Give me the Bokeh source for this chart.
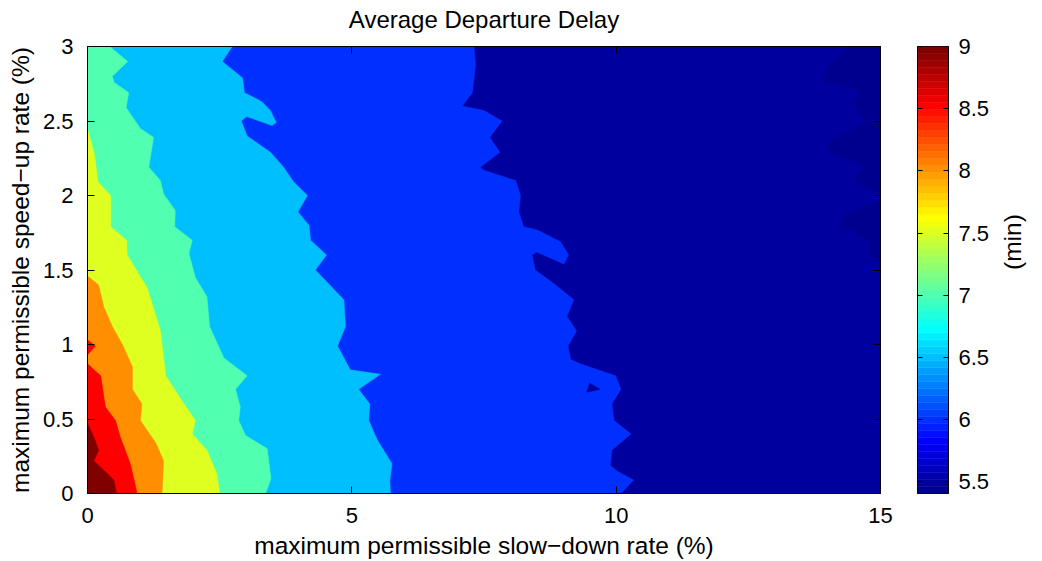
import math
from bokeh.plotting import figure
from bokeh.models import Range1d, FixedTicker, LinearAxis
from bokeh.layouts import row
from bokeh.embed import file_html
from bokeh.resources import INLINE

# ---------------- data ----------------
X_MIN, X_MAX = 0.0, 15.0
Y_MIN, Y_MAX = 0.0, 3.0
C_MIN, C_MAX = 5.407, 9.0          # colour limits (min)

title_text = "Average Departure Delay"
x_ticks = [0, 5, 10, 15]
x_tick_labels = ["0", "5", "10", "15"]
y_ticks = [0, 0.5, 1, 1.5, 2, 2.5, 3]
y_tick_labels = ["0", "0.5", "1", "1.5", "2", "2.5", "3"]
cb_ticks = [5.5, 6, 6.5, 7, 7.5, 8, 8.5, 9]
cb_tick_labels = ["5.5", "6", "6.5", "7", "7.5", "8", "8.5", "9"]

# contour lines (slow-down %, speed-up %), traced top -> bottom; higher delay lies to the left
c60_x = [7.31, 7.34, 7.28, 7.09, 7.50, 7.84, 7.61, 7.80, 7.43, 7.50, 8.10, 8.19, 8.16, 8.25, 8.50,
         8.95, 9.10, 9.01, 8.50, 8.41, 8.47, 8.82, 9.20, 9.07, 9.25, 9.09, 9.14, 9.32, 9.99, 10.09,
         9.92, 9.96, 10.28, 9.92, 9.89, 10.02, 10.33, 10.09]
c60_y = [3.00, 2.88, 2.69, 2.60, 2.57, 2.50, 2.39, 2.29, 2.19, 2.17, 2.10, 2.00, 1.89, 1.79, 1.77,
         1.69, 1.60, 1.54, 1.62, 1.60, 1.50, 1.41, 1.30, 1.19, 1.09, 0.99, 0.90, 0.87, 0.79, 0.70,
         0.60, 0.49, 0.40, 0.29, 0.19, 0.15, 0.09, 0.00]
c65_x = [2.74, 2.55, 2.93, 2.97, 3.30, 3.46, 3.57, 3.49, 3.01, 2.91, 3.02, 3.46, 3.71, 3.90, 4.16,
         3.98, 4.19, 4.22, 4.52, 4.31, 4.85, 4.88, 4.73, 4.97, 5.54, 5.13, 5.34, 5.32, 5.48, 5.76,
         5.72, 5.73]
c65_y = [3.00, 2.90, 2.79, 2.69, 2.63, 2.57, 2.49, 2.47, 2.53, 2.50, 2.40, 2.29, 2.19, 2.09, 2.00,
         1.89, 1.80, 1.70, 1.60, 1.50, 1.30, 1.12, 0.99, 0.83, 0.80, 0.70, 0.60, 0.49, 0.36, 0.20,
         0.09, 0.00]
c70_x = [0.42, 0.76, 0.47, 0.50, 0.78, 0.73, 1.00, 1.25, 1.16, 1.38, 1.44, 1.66, 1.65, 1.98, 1.92,
         2.04, 2.26, 2.31, 2.58, 3.02, 2.80, 2.89, 2.86, 2.99, 3.40, 3.47, 3.37]
c70_y = [3.00, 2.90, 2.80, 2.76, 2.69, 2.59, 2.45, 2.39, 2.19, 2.10, 2.01, 1.90, 1.79, 1.70, 1.61,
         1.45, 1.32, 1.12, 0.91, 0.79, 0.70, 0.58, 0.49, 0.39, 0.30, 0.10, 0.00]
c75_x = [0.00, 0.13, 0.20, 0.44, 0.44, 0.74, 0.75, 1.13, 1.38, 1.48, 1.79, 2.04, 1.98, 2.26, 2.45, 2.50]
c75_y = [2.45, 2.28, 2.09, 2.00, 1.79, 1.70, 1.60, 1.38, 1.09, 0.79, 0.62, 0.49, 0.40, 0.29, 0.13, 0.00]
c80_x = [0.00, 0.21, 0.31, 0.47, 0.66, 0.85, 0.85, 1.03, 1.00, 1.29, 1.44, 1.41]
c80_y = [1.46, 1.40, 1.25, 1.12, 1.00, 0.85, 0.70, 0.60, 0.49, 0.34, 0.22, 0.00]
c85_x = [0.00, 0.15, 0.00, 0.00, 0.25, 0.34, 0.53, 0.62, 0.81, 0.94]
c85_y = [1.03, 0.99, 0.93, 0.87, 0.79, 0.58, 0.49, 0.38, 0.20, 0.00]
c90_x = [0.00, 0.12, 0.21, 0.12, 0.50, 0.55]
c90_y = [0.47, 0.38, 0.29, 0.22, 0.09, 0.00]

# regions below 5.5 min (right edge) and a small island below 6 min
low55_a_x = [14.40, 13.96, 13.93, 14.62, 14.49, 14.72, 14.12, 13.99, 14.75, 14.49, 15.00, 15.00]
low55_a_y = [3.00, 2.83, 2.77, 2.70, 2.62, 2.49, 2.39, 2.30, 2.19, 2.10, 2.01, 3.00]
low55_b_x = [15.00, 14.35, 14.24, 14.78, 14.80, 15.00]
low55_b_y = [1.97, 1.88, 1.80, 1.70, 1.60, 1.54]
isl60_x = [9.50, 9.70, 9.44]
isl60_y = [0.74, 0.70, 0.68]

left_levels = [6.0, 6.5, 7.0, 7.5, 8.0, 8.5, 9.0]
left_lines = [(c60_x, c60_y), (c65_x, c65_y), (c70_x, c70_y), (c75_x, c75_y),
              (c80_x, c80_y), (c85_x, c85_y), (c90_x, c90_y)]


# ---------------- colours (MATLAB jet, 64 entries) ----------------
def jet64(k):  # k = 1..64
    if k <= 8:
        r, g, b = 0, 0, (k + 8) / 16
    elif k <= 24:
        r, g, b = 0, (k - 8) / 16, 1
    elif k <= 40:
        r, g, b = (k - 24) / 16, 1, 1 - (k - 24) / 16
    elif k <= 56:
        r, g, b = 1, 1 - (k - 40) / 16, 0
    else:
        r, g, b = 1 - (k - 56) / 16, 0, 0
    return "#%02x%02x%02x" % (round(r * 255), round(g * 255), round(b * 255))


def level_color(v):
    k = int(math.floor((v - C_MIN) / (C_MAX - C_MIN) * 64)) + 1
    return jet64(max(1, min(64, k)))


FONT = "Liberation Sans"

p = figure(width=900, height=561, x_range=Range1d(X_MIN, X_MAX), y_range=Range1d(Y_MIN, Y_MAX),
           output_backend="svg", toolbar_location=None,
           min_border_left=87, min_border_right=20, min_border_top=46, min_border_bottom=68)
p.grid.visible = False
p.background_fill_color = level_color(5.5)
p.border_fill_color = "white"
p.outline_line_color = "black"
p.outline_line_alpha = 1.0

# regions below 5.5
p.patches(xs=[low55_a_x, low55_b_x], ys=[low55_a_y, low55_b_y],
          fill_color=level_color(C_MIN), line_color=level_color(C_MIN), line_width=0.5)

for lev, (bx, by) in zip(left_levels, left_lines):
    xs = [X_MIN] + list(bx) + [X_MIN]
    ys = [Y_MAX] + list(by) + [Y_MIN]
    col = level_color(lev)
    p.patch(xs, ys, fill_color=col, line_color=col, line_width=0.5)
    if lev == 6.0:
        p.patch(isl60_x, isl60_y, fill_color=level_color(5.5), line_color=level_color(5.5), line_width=0.5)


def style_axis(ax, ticks, labels, show_labels=True):
    ax.ticker = FixedTicker(ticks=ticks)
    ax.major_label_overrides = {t: (l if show_labels else "") for t, l in zip(ticks, labels)}
    ax.major_tick_in = 7
    ax.major_tick_out = 0
    ax.minor_tick_in = 0
    ax.minor_tick_out = 0
    ax.major_tick_line_color = "black"
    ax.axis_line_color = "black"
    ax.major_label_text_font = FONT
    ax.major_label_text_font_size = "22px" if show_labels else "0px"
    ax.major_label_text_color = "black"
    ax.axis_label_text_font = FONT
    ax.axis_label_text_font_size = "24.5px"
    ax.axis_label_text_font_style = "normal"
    ax.axis_label_text_color = "black"


style_axis(p.xaxis[0], x_ticks, x_tick_labels)
p.xaxis[0].axis_label = "maximum permissible slow\u2212down rate (%)"
p.xaxis[0].major_label_standoff = 14
p.xaxis[0].axis_label_standoff = 6
style_axis(p.yaxis[0], y_ticks, y_tick_labels)
p.yaxis[0].axis_label = "maximum permissible speed\u2212up rate (%)"
p.yaxis[0].major_label_standoff = 14
p.yaxis[0].axis_label_standoff = 6

# top axis: inward ticks, carries the chart title
top_ax = LinearAxis()
style_axis(top_ax, x_ticks, x_tick_labels, show_labels=False)
top_ax.major_label_standoff = 0
top_ax.axis_label = title_text
top_ax.axis_label_text_font_size = "24px"
top_ax.axis_label_standoff = 14
p.add_layout(top_ax, "above")
right_ax = LinearAxis()
style_axis(right_ax, y_ticks, y_tick_labels, show_labels=False)
right_ax.major_label_standoff = 0
p.add_layout(right_ax, "right")

# ---------------- colour bar ----------------
cb = figure(width=142, height=561, x_range=Range1d(0, 1), y_range=Range1d(C_MIN, C_MAX),
            output_backend="svg", toolbar_location=None, x_axis_location=None, y_axis_location="right",
            min_border_left=17, min_border_right=76, min_border_top=46, min_border_bottom=68)
cb.grid.visible = False
cb.outline_line_color = "black"
cb.outline_line_alpha = 1.0
step = (C_MAX - C_MIN) / 64
bottoms = [C_MIN + i * step for i in range(64)]
tops = [b + step for b in bottoms]
cols = [jet64(i + 1) for i in range(64)]
cb.quad(left=0, right=1, bottom=bottoms, top=tops, fill_color=cols, line_color=cols, line_width=0.5)
style_axis(cb.yaxis[0], cb_ticks, cb_tick_labels)
cb.yaxis[0].major_tick_in = 5
cb.yaxis[0].major_label_standoff = 10
cb.yaxis[0].axis_label = "(min)"
cb.yaxis[0].axis_label_standoff = 20
cb.yaxis[0].axis_label_orientation = math.pi / 2
cb_left = LinearAxis()
style_axis(cb_left, cb_ticks, cb_tick_labels, show_labels=False)
cb_left.major_tick_in = 5
cb_left.major_label_standoff = 0
cb.add_layout(cb_left, "left")

layout = row(p, cb)
open("out.html", "w").write(file_html(layout, INLINE))
